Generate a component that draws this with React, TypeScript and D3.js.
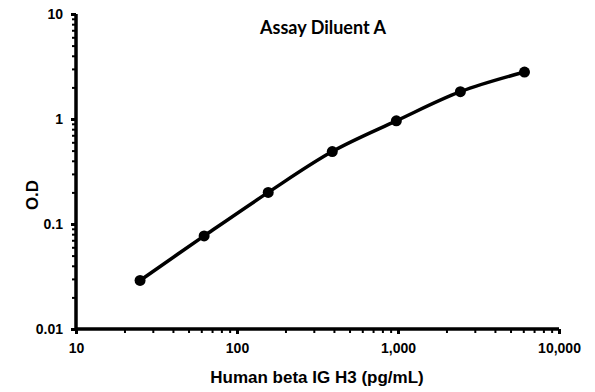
import { axisBottom, axisLeft, curveCatmullRom, line, scaleLog, select } from 'd3'
import { useEffect, useRef } from 'react'

const concentrations = [25, 62.5, 156.25, 390.6, 976.6, 2441, 6104]
const odValues = [0.029, 0.077, 0.2, 0.49, 0.96, 1.82, 2.8]
const xTicks = [10, 100, 1000, 10000]
const yTicks = [0.01, 0.1, 1, 10]

const ARIAL = '"Liberation Sans", Arial, sans-serif'

export default function App() {
  const ref = useRef<SVGSVGElement>(null)
  const width = 595
  const height = 392

  useEffect(() => {
    const svg = select(ref.current)
    svg.selectAll('*').remove()
    const x = scaleLog().domain([10, 10000]).range([76, 559])
    const y = scaleLog().domain([0.01, 10]).range([329, 14])

    const minorX: number[] = []
    for (let d = 10; d < 10000; d *= 10) for (let k = 2; k <= 9; k++) minorX.push(d * k)
    const minorY: number[] = []
    for (let d = 0.01; d < 10; d *= 10) for (let k = 2; k <= 9; k++) minorY.push(d * k)

    const tickStyle = (g: any, w: number) => {
      g.select('.domain').remove()
      g.selectAll('.tick line').attr('stroke', '#000').attr('stroke-width', w)
      g.selectAll('text')
        .attr('fill', '#000')
        .style('font-family', ARIAL)
        .style('font-weight', 'bold')
        .style('font-size', '14px')
    }

    // minor ticks
    svg.append('g')
      .attr('transform', 'translate(0,329)')
      .call(axisBottom(x).tickValues(minorX).tickSize(4).tickFormat(() => ''))
      .call((g: any) => tickStyle(g, 2))
    svg.append('g')
      .attr('transform', 'translate(76,0)')
      .call(axisLeft(y).tickValues(minorY).tickSize(4).tickFormat(() => ''))
      .call((g: any) => tickStyle(g, 2))

    svg.append('g')
      .attr('transform', 'translate(0,329)')
      .call(axisBottom(x).tickValues(xTicks).tickSize(5).tickPadding(9)
        .tickFormat((d: any) => Number(d).toLocaleString('en-US')))
      .call((g: any) => tickStyle(g, 3))
    svg.append('g')
      .attr('transform', 'translate(76,0)')
      .call(axisLeft(y).tickValues(yTicks).tickSize(5).tickPadding(8)
        .tickFormat((d: any) => String(d)))
      .call((g: any) => tickStyle(g, 3))

    // axis lines
    svg.append('line')
      .attr('x1', x.range()[0]).attr('x2', x.range()[1])
      .attr('y1', y.range()[0]).attr('y2', y.range()[0])
      .attr('stroke', '#000').attr('stroke-width', 3.5)
    svg.append('line')
      .attr('x1', x.range()[0]).attr('x2', x.range()[0])
      .attr('y1', y.range()[0] + 1.5).attr('y2', y.range()[1])
      .attr('stroke', '#000').attr('stroke-width', 3.5)

    const pts = concentrations.map((c, i) => [x(c), y(odValues[i])] as [number, number])
    svg.append('path')
      .attr('d', line().curve(curveCatmullRom.alpha(0.5))(pts) ?? '')
      .attr('fill', 'none')
      .attr('stroke', '#000')
      .attr('stroke-width', 3.5)
    svg.selectAll('circle.pt')
      .data(pts)
      .join('circle')
      .attr('cx', (d) => d[0])
      .attr('cy', (d) => d[1])
      .attr('r', 5.5)
      .attr('fill', '#000')

    svg.append('text')
      .attr('x', 323)
      .attr('y', 34)
      .attr('text-anchor', 'middle')
      .style('font-family', 'Lato, "Open Sans", sans-serif')
      .style('font-weight', 'bold')
      .style('font-size', '18px')
      .text('Assay Diluent A')
    svg.append('text')
      .attr('x', 317)
      .attr('y', 383)
      .attr('text-anchor', 'middle')
      .style('font-family', ARIAL)
      .style('font-weight', 'bold')
      .style('font-size', '17px')
      .text('Human beta IG H3 (pg/mL)')
    svg.append('text')
      .attr('transform', 'translate(38,195) rotate(-90)')
      .attr('text-anchor', 'middle')
      .style('font-family', ARIAL)
      .style('font-weight', 'bold')
      .style('font-size', '17px')
      .text('O.D')
  }, [])

  return (
    <svg ref={ref} width={width} height={height} viewBox={`0 0 ${width} ${height}`}
      style={{ position: 'absolute', left: 0, top: 0, background: '#fff' }} />
  )
}
